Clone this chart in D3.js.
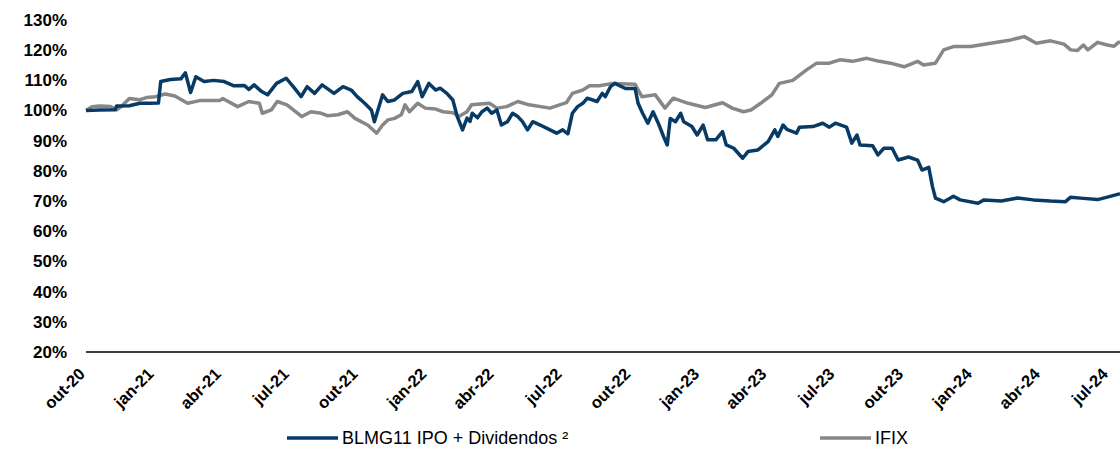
<!DOCTYPE html>
<html lang="pt">
<head>
<meta charset="UTF-8">
<title>BLMG11 x IFIX</title>
<script src="https://cdnjs.cloudflare.com/ajax/libs/d3/7.8.5/d3.min.js"></script>
<style>
    body { margin: 0; background: #fff; }
    svg { display: block; font-family: "Liberation Sans", Arial, sans-serif; }
    .tick text { font-weight: bold; fill: #000; }
</style>
</head>
<body>
<svg id="chart" width="1120" height="458"></svg>
<script>

    // BLMG11 IPO + Dividendos (base 100%)
    var blmgDates = ["2020-10-01","2020-10-19","2020-11-09","2020-11-11","2020-11-28","2020-12-12","2020-12-25","2021-01-06","2021-01-09","2021-01-22",
        "2021-02-05","2021-02-11","2021-02-18","2021-02-25","2021-03-08","2021-03-21","2021-04-04","2021-04-17","2021-05-01","2021-05-07",
        "2021-05-14","2021-05-23","2021-06-01","2021-06-13","2021-06-26","2021-07-07","2021-07-16","2021-07-24","2021-08-03","2021-08-13",
        "2021-08-29","2021-09-10","2021-09-21","2021-09-29","2021-10-09","2021-10-18","2021-10-22","2021-11-02","2021-11-09","2021-11-18",
        "2021-11-29","2021-12-11","2021-12-19","2021-12-25","2022-01-03","2022-01-12","2022-01-18","2022-01-27","2022-02-04","2022-02-10",
        "2022-02-17","2022-02-23","2022-02-27","2022-03-02","2022-03-09","2022-03-15","2022-03-22","2022-03-28","2022-04-04","2022-04-10",
        "2022-04-18","2022-04-25","2022-05-02","2022-05-08","2022-05-15","2022-05-22","2022-06-01","2022-06-14","2022-06-23","2022-07-01",
        "2022-07-08","2022-07-14","2022-07-21","2022-07-28","2022-08-03","2022-08-16","2022-08-23","2022-08-27","2022-09-03","2022-09-09",
        "2022-09-23","2022-10-06","2022-10-10","2022-10-16","2022-10-23","2022-10-30","2022-11-06","2022-11-13","2022-11-18","2022-11-22",
        "2022-11-29","2022-12-06","2022-12-10","2022-12-21","2022-12-28","2023-01-05","2023-01-11","2023-01-22","2023-01-31","2023-02-05",
        "2023-02-15","2023-02-27","2023-03-06","2023-03-19","2023-04-02","2023-04-11","2023-04-15","2023-04-22","2023-04-27","2023-05-10",
        "2023-05-14","2023-06-01","2023-06-14","2023-06-23","2023-07-01","2023-07-16","2023-07-23","2023-07-30","2023-08-03","2023-08-20",
        "2023-08-27","2023-09-04","2023-09-15","2023-09-23","2023-10-07","2023-10-19","2023-10-25","2023-11-03","2023-11-08","2023-11-12",
        "2023-11-23","2023-12-02","2023-12-06","2023-12-15","2024-01-08","2024-01-16","2024-02-08","2024-03-01","2024-03-22","2024-04-14",
        "2024-05-04","2024-05-11","2024-05-28","2024-06-16","2024-06-29","2024-07-14","2024-07-16"];
    var blmgValues = [100.0,100.2,100.3,101.5,101.6,102.4,102.4,102.5,109.6,110.3,
        110.5,112.5,106.0,111.2,109.6,110.0,109.6,108.2,108.3,107.0,
        108.5,106.5,105.2,109.0,110.7,107.4,104.6,107.9,105.7,108.5,
        105.7,107.9,106.8,104.6,102.4,100.2,96.3,105.2,103.0,103.5,
        105.7,106.3,109.6,104.6,109.0,106.8,107.4,105.7,103.5,98.0,
        93.6,97.5,96.4,99.1,97.6,99.6,100.8,99.1,100.2,95.2,
        96.3,99.1,98.0,96.4,93.6,96.3,95.2,93.6,92.5,93.6,
        92.3,99.1,101.3,102.4,104.1,103.0,105.7,104.6,107.9,109.0,
        107.3,107.3,102.4,99.1,95.8,99.6,95.8,91.4,88.6,97.4,
        96.3,99.1,96.3,94.7,91.9,95.2,90.3,90.3,93.0,88.6,
        87.5,84.2,86.4,86.9,89.7,93.6,91.4,95.2,93.8,92.5,
        94.5,94.7,95.8,94.5,95.8,94.5,89.2,91.9,88.6,88.3,
        85.3,87.5,87.5,83.6,84.6,83.6,80.3,81.2,74.8,71.0,
        69.8,71.0,71.6,70.4,69.3,70.4,70.0,71.0,70.4,70.0,
        69.8,71.3,70.9,70.5,71.3,72.3,72.5];

    // IFIX (base 100%)
    var ifixDates = ["2020-10-01","2020-10-09","2020-10-19","2020-11-03","2020-11-11","2020-11-18","2020-11-28","2020-12-12","2020-12-21","2021-01-02",
        "2021-01-15","2021-01-28","2021-02-14","2021-03-02","2021-03-29","2021-04-02","2021-04-22","2021-05-07","2021-05-21","2021-05-25",
        "2021-06-06","2021-06-14","2021-06-27","2021-07-17","2021-07-29","2021-08-12","2021-08-20","2021-09-03","2021-09-16","2021-09-26",
        "2021-10-13","2021-10-25","2021-11-02","2021-11-09","2021-11-18","2021-11-27","2021-12-02","2021-12-08","2021-12-19","2021-12-29",
        "2022-01-12","2022-01-22","2022-02-04","2022-02-12","2022-02-23","2022-03-01","2022-03-25","2022-04-04","2022-04-17","2022-05-02",
        "2022-05-17","2022-06-14","2022-07-06","2022-07-14","2022-07-28","2022-08-06","2022-08-19","2022-09-06","2022-10-06","2022-10-15",
        "2022-11-02","2022-11-15","2022-11-26","2022-12-16","2023-01-08","2023-01-31","2023-02-13","2023-02-28","2023-03-10","2023-03-23",
        "2023-04-07","2023-04-17","2023-05-05","2023-05-23","2023-06-06","2023-06-23","2023-07-07","2023-07-24","2023-08-12","2023-08-29",
        "2023-09-13","2023-10-01","2023-10-19","2023-10-27","2023-11-12","2023-11-23","2023-12-06","2023-12-29","2024-01-25","2024-02-21",
        "2024-03-10","2024-03-26","2024-04-14","2024-05-02","2024-05-11","2024-05-20","2024-05-28","2024-06-03","2024-06-16","2024-06-29",
        "2024-07-08","2024-07-14","2024-07-16"];
    var ifixValues = [100.0,101.3,101.5,101.3,100.2,101.5,104.0,103.6,104.3,104.6,
        105.5,104.8,102.4,103.3,103.3,104.0,101.3,103.0,102.4,99.1,
        100.2,103.0,101.9,98.0,99.6,99.1,98.3,98.6,99.6,97.4,
        95.2,92.5,95.2,96.9,97.4,98.6,101.9,99.6,102.4,100.8,
        100.5,99.6,99.3,98.0,99.6,101.9,102.4,100.8,101.3,103.0,
        101.9,100.8,102.6,105.7,106.8,108.2,108.2,109.0,108.7,104.6,
        105.2,100.8,104.1,102.4,101.0,102.6,100.8,99.6,100.2,102.4,
        105.2,109.0,110.0,113.4,115.7,115.7,116.8,116.3,117.3,116.3,
        115.7,114.5,116.3,115.1,115.7,120.1,121.2,121.2,122.3,123.4,
        124.5,122.3,123.1,122.0,120.1,119.9,121.7,120.1,122.6,121.7,
        121.3,122.6,122.5];

    var yTicks = [20, 30, 40, 50, 60, 70, 80, 90, 100, 110, 120, 130];
    var xTickDates = ["2020-10-01","2021-01-01","2021-04-01","2021-07-01","2021-10-01","2022-01-01","2022-04-01","2022-07-01",
        "2022-10-01","2023-01-01","2023-04-01","2023-07-01","2023-10-01","2024-01-01","2024-04-01","2024-07-01"];
    var xTickLabels = ["out-20","jan-21","abr-21","jul-21","out-21","jan-22","abr-22","jul-22",
        "out-22","jan-23","abr-23","jul-23","out-23","jan-24","abr-24","jul-24"];
    var seriesNames = ["BLMG11 IPO + Dividendos \u00b2", "IFIX"];
    var seriesColors = ["#073b65", "#878787"];

    var parse = d3.timeParse("%Y-%m-%d");

    var series = [
        blmgDates.map(function (d, i) { return { date: parse(d), value: blmgValues[i] }; }),
        ifixDates.map(function (d, i) { return { date: parse(d), value: ifixValues[i] }; })
    ];

    var svg = d3.select("#chart");

    var x = d3.scaleTime()
        .domain([parse("2020-10-01"), parse("2024-07-16")])
        .range([86, 1120]);

    var y = d3.scaleLinear()
        .domain([20, 130])
        .range([352, 20]);

    // y labels, no axis line
    var yAxis = svg.append("g")
        .attr("transform", "translate(70,0)")
        .call(d3.axisLeft(y).tickValues(yTicks).tickSize(0).tickPadding(3)
            .tickFormat(function (d) { return d + "%"; }));
    yAxis.select(".domain").remove();
    yAxis.selectAll("text").attr("font-size", "17px");

    // baseline at 20%
    svg.append("line")
        .attr("x1", 86).attr("x2", 1120)
        .attr("y1", y(20)).attr("y2", y(20))
        .attr("stroke", "#000")
        .attr("stroke-width", 1.5);

    // x labels, rotated
    svg.append("g")
        .selectAll("text")
        .data(xTickDates)
        .enter()
        .append("text")
        .attr("transform", function (d) {
            return "translate(" + (x(parse(d)) - 4) + ",371) rotate(-45)";
        })
        .attr("text-anchor", "end")
        .attr("dy", "0.35em")
        .attr("font-size", "16.5px")
        .attr("font-weight", "bold")
        .text(function (d, i) { return xTickLabels[i]; });

    var line = d3.line()
        .x(function (d) { return x(d.date); })
        .y(function (d) { return y(d.value); });

    // IFIX underneath first, then BLMG11
    [1, 0].forEach(function (k) {
        svg.append("path")
            .datum(series[k])
            .attr("fill", "none")
            .attr("stroke", seriesColors[k])
            .attr("stroke-width", 3.5)
            .attr("stroke-linejoin", "round")
            .attr("d", line);
    });

    // legend
    var legendX = [287, 820];
    var legend = svg.append("g").selectAll("g")
        .data(seriesNames)
        .enter()
        .append("g")
        .attr("transform", function (d, i) { return "translate(" + legendX[i] + ",438)"; });

    legend.append("line")
        .attr("x1", 0).attr("x2", 51)
        .attr("stroke", function (d, i) { return seriesColors[i]; })
        .attr("stroke-width", 3.5);

    legend.append("text")
        .attr("x", 55)
        .attr("dy", "0.35em")
        .attr("font-size", "18px")
        .text(function (d) { return d; });

</script>
</body>
</html>
